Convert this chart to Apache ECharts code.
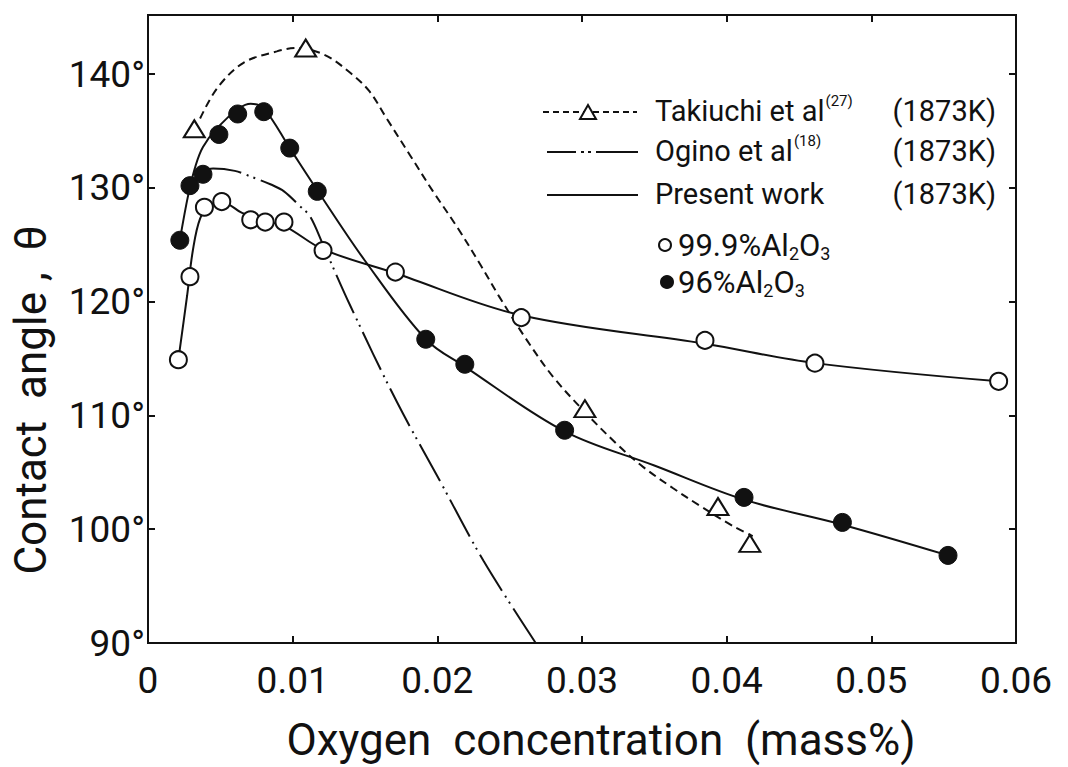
<!DOCTYPE html>
<html><head><meta charset="utf-8">
<script src="https://cdn.jsdelivr.net/npm/echarts@6/dist/echarts.min.js"></script>
<style>html,body{margin:0;padding:0;background:#fff}#c{width:1068px;height:767px}</style>
</head><body><div id="c"></div>
<script>
// tick labels
const xTickLabels = ['0', '0.01', '0.02', '0.03', '0.04', '0.05', '0.06'];
const yTickLabels = ['90°', '100°', '110°', '120°', '130°', '140°'];

// measured points: 99.9% Al2O3 (open circles)
const openX = [0.0021, 0.0029, 0.0039, 0.0051, 0.0071, 0.0081, 0.0094, 0.0121, 0.0171, 0.0258, 0.0385, 0.0461, 0.0588];
const openY = [114.9, 122.2, 128.3, 128.8, 127.2, 127.0, 127.0, 124.5, 122.6, 118.6, 116.6, 114.6, 113.0];
// measured points: 96% Al2O3 (filled circles)
const filledX = [0.0022, 0.0029, 0.0038, 0.0049, 0.0062, 0.0080, 0.0098, 0.0117, 0.0192, 0.0219, 0.0288, 0.0412, 0.0480, 0.0553];
const filledY = [125.4, 130.2, 131.2, 134.7, 136.5, 136.7, 133.5, 129.7, 116.7, 114.5, 108.7, 102.8, 100.6, 97.7];
// Takiuchi et al. points (triangles)
const triX = [0.0032, 0.0109, 0.0302, 0.0394, 0.0416];
const triY = [135.2, 142.3, 110.6, 102.0, 98.75];

// curves
const openFitX = [0.0021, 0.0027, 0.0031, 0.0036, 0.0043, 0.0052, 0.0065, 0.0081, 0.0095, 0.0121, 0.0171, 0.0258, 0.0385, 0.0461, 0.0588];
const openFitY = [114.9, 120.5, 124.5, 127.3, 128.5, 128.7, 127.8, 127.1, 126.6, 124.6, 122.5, 118.8, 116.3, 114.6, 113.0];
const filledFitX = [0.0022, 0.0028, 0.0033, 0.0038, 0.0048, 0.0063, 0.0071, 0.0080, 0.0098, 0.0117, 0.0150, 0.0192, 0.0219, 0.0288, 0.0350, 0.0412, 0.0480, 0.0553];
const filledFitY = [125.4, 129.5, 132.0, 133.6, 135.3, 137.0, 137.4, 137.0, 133.5, 129.8, 123.6, 116.7, 114.3, 108.6, 105.6, 102.6, 100.4, 97.7];
const oginoX = [0.0036, 0.0045, 0.0060, 0.0071, 0.0085, 0.0094, 0.0105, 0.0112, 0.0121, 0.0140, 0.0172, 0.0202, 0.0232, 0.0268];
const oginoY = [131.4, 131.7, 131.5, 131.0, 130.3, 129.7, 128.4, 127.5, 125.0, 119.6, 111.2, 104.2, 97.2, 90.0];
const takX = [0.0036, 0.0048, 0.0066, 0.0089, 0.0103, 0.0122, 0.0140, 0.0153, 0.0165, 0.0181, 0.0197, 0.0214, 0.0230, 0.0243, 0.0262, 0.0280, 0.0302, 0.0324, 0.0342, 0.0363, 0.0381, 0.0404, 0.0418];
const takY = [136.1, 138.8, 141.0, 142.0, 142.3, 141.7, 140.1, 138.5, 136.1, 132.9, 129.7, 126.5, 123.2, 120.4, 116.6, 113.4, 110.3, 107.5, 105.5, 103.6, 102.1, 100.3, 99.4];

const zip = (xs, ys) => xs.map((x, i) => [x, ys[i]]);
const INK = '#111';
const FONT = 'Roboto';

// text measuring for legend layout
const mctx = document.createElement('canvas').getContext('2d');
const tw = (t, f) => { mctx.font = f; return mctx.measureText(t).width; };

const chart = echarts.init(document.getElementById('c'), null, { renderer: 'svg' });

const axisCommon = {
  axisLine: { show: true, onZero: false, lineStyle: { color: INK, width: 2 } },
  axisTick: { show: true, inside: true, length: 7, lineStyle: { color: INK, width: 2 } },
  splitLine: { show: false }
};

const lineBase = { type: 'line', showSymbol: false, symbol: 'none', smooth: 0.35, z: 2, silent: true };

const legendFont = '29px ' + FONT;
const supFont = '15px ' + FONT;
const matFont = '31px ' + FONT;
const subFont = '18px ' + FONT;
const g = [];
function txt(x, y, text, font, align) {
  g.push({ type: 'text', x: x, y: y, style: { text: text, font: font, fill: INK, align: align || 'left', verticalAlign: 'middle' } });
}
// row 1: Takiuchi
g.push({ type: 'line', shape: { x1: 543, y1: 112, x2: 637, y2: 112 }, style: { stroke: INK, lineWidth: 2, lineDash: [6, 4] } });
g.push({ type: 'polygon', shape: { points: [[588, 105], [580, 119], [596, 119]] }, style: { fill: '#fff', stroke: INK, lineWidth: 2 } });
txt(655, 111, 'Takiuchi et al', legendFont);
txt(655 + tw('Takiuchi et al', legendFont) + 1, 101, '(27)', supFont);
txt(996, 111, '(1873K)', legendFont, 'right');
// row 2: Ogino
[[547, 576], [581, 584], [588, 591], [596, 638]].forEach(s =>
  g.push({ type: 'line', shape: { x1: s[0], y1: 152, x2: s[1], y2: 152 }, style: { stroke: INK, lineWidth: 2 } }));
txt(655, 151, 'Ogino et al', legendFont);
txt(655 + tw('Ogino et al', legendFont) + 1, 141, '(18)', supFont);
txt(996, 151, '(1873K)', legendFont, 'right');
// row 3: Present work
g.push({ type: 'line', shape: { x1: 547, y1: 195, x2: 638, y2: 195 }, style: { stroke: INK, lineWidth: 2 } });
txt(655, 194, 'Present work', legendFont);
txt(996, 194, '(1873K)', legendFont, 'right');
// rows 4/5: materials
function alRow(y, cx, filled, lead) {
  g.push({ type: 'circle', shape: { cx: cx, cy: y, r: 6 }, style: { fill: filled ? INK : '#fff', stroke: INK, lineWidth: 2 } });
  let x = 678;
  txt(x, y, lead + 'Al', matFont); x += tw(lead + 'Al', matFont);
  txt(x, y + 8, '2', subFont); x += tw('2', subFont);
  txt(x, y, 'O', matFont); x += tw('O', matFont);
  txt(x, y + 8, '3', subFont);
}
alRow(245, 665, false, '99.9%');
alRow(282, 667, true, '96%');
// y-axis title
g.push({ type: 'text', x: 31, y: 400, rotation: Math.PI / 2,
  style: { text: 'Contact  angle ,  θ', font: '44px ' + FONT, fill: INK, align: 'center', verticalAlign: 'middle' } });

const option = {
  backgroundColor: '#fff',
  animation: false,
  textStyle: { fontFamily: FONT, color: INK },
  grid: { left: 148, right: 52, top: 15, bottom: 117, show: true, borderColor: INK, borderWidth: 2 },
  xAxis: [
    Object.assign({
      type: 'value', position: 'bottom', min: 0, max: 0.06, interval: 0.01,
      name: 'Oxygen  concentration  (mass%)', nameLocation: 'middle', nameGap: 75,
      nameTextStyle: { fontFamily: FONT, fontSize: 44, color: INK, padding: [0, 0, 0, 38] },
      axisLabel: { fontFamily: FONT, fontSize: 37, color: INK, margin: 19,
        formatter: v => xTickLabels[Math.round(v / 0.01)] }
    }, axisCommon),
    Object.assign({
      type: 'value', position: 'top', min: 0, max: 0.06, interval: 0.01,
      axisLabel: { show: false }
    }, axisCommon)
  ],
  yAxis: [
    Object.assign({
      type: 'value', position: 'left', min: 90, max: 145.2, interval: 10,
      axisLabel: { fontFamily: FONT, fontSize: 37, color: INK, margin: 3,
        formatter: v => { const k = Math.round((v - 90) / 10); return Math.abs(v - 90 - k * 10) < 1e-6 ? yTickLabels[k] : ''; } }
    }, axisCommon),
    Object.assign({
      type: 'value', position: 'right', min: 90, max: 145.2, interval: 10,
      axisLabel: { show: false }
    }, axisCommon)
  ],
  graphic: g,
  series: [
    Object.assign({}, lineBase, { name: 'Takiuchi curve', data: zip(takX, takY),
      lineStyle: { color: INK, width: 2, type: [8, 5] } }),
    Object.assign({}, lineBase, { name: 'Ogino curve', data: zip(oginoX, oginoY),
      lineStyle: { color: INK, width: 2, type: [42, 6, 2, 5, 2, 6] } }),
    Object.assign({}, lineBase, { name: 'Present 99.9', data: zip(openFitX, openFitY),
      lineStyle: { color: INK, width: 2 } }),
    Object.assign({}, lineBase, { name: 'Present 96', data: zip(filledFitX, filledFitY),
      lineStyle: { color: INK, width: 2 } }),
    { type: 'scatter', name: 'Takiuchi et al', data: zip(triX, triY), symbol: 'triangle', symbolSize: [21, 17], z: 4,
      itemStyle: { color: '#fff', borderColor: INK, borderWidth: 2, opacity: 1 } },
    { type: 'scatter', name: '99.9% Al2O3', data: zip(openX, openY), symbol: 'circle', symbolSize: 17, z: 4,
      itemStyle: { color: '#fff', borderColor: INK, borderWidth: 2, opacity: 1 } },
    { type: 'scatter', name: '96% Al2O3', data: zip(filledX, filledY), symbol: 'circle', symbolSize: 18, z: 4,
      itemStyle: { color: INK, borderColor: INK, borderWidth: 1, opacity: 1 } }
  ]
};
chart.setOption(option);
</script>
</body></html>
